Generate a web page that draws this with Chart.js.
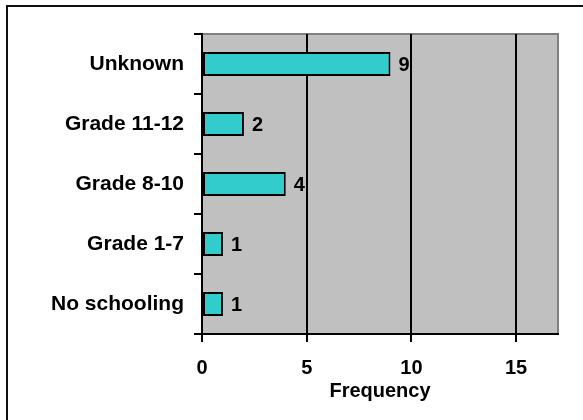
<!DOCTYPE html>
<html>
<head>
<meta charset="utf-8">
<script src="https://cdn.jsdelivr.net/npm/chart.js@4/dist/chart.umd.min.js"></script>
<style>
  html, body { margin: 0; padding: 0; background: #fff; }
  #wrap { width: 583px; height: 420px; }
</style>
</head>
<body>
<div id="wrap"><canvas id="c" width="583" height="420"></canvas></div>
<script>
const categories = ['Unknown', 'Grade 11-12', 'Grade 8-10', 'Grade 1-7', 'No schooling'];
const frequency = [9, 2, 4, 1, 1];
const xTicks = [0, 5, 10, 15];
const xMax = 17;
const xTitle = 'Frequency';

const FONT = '"Liberation Sans", Arial, Helvetica, sans-serif';

const decor = {
  id: 'decor',
  beforeDraw(chart) {
    const { ctx, chartArea: a } = chart;
    ctx.save();
    ctx.fillStyle = '#C0C0C0';
    ctx.fillRect(a.left, a.top, a.right - a.left, a.bottom - a.top);
    ctx.strokeStyle = '#808080';
    ctx.lineWidth = 2;
    ctx.beginPath();
    ctx.moveTo(a.left, a.top);
    ctx.lineTo(a.right, a.top);
    ctx.lineTo(a.right, a.bottom);
    ctx.stroke();
    // outer frame (left and top visible)
    ctx.strokeStyle = '#111';
    ctx.lineWidth = 2;
    ctx.beginPath();
    ctx.moveTo(7, 420);
    ctx.lineTo(7, 6);
    ctx.lineTo(583, 6);
    ctx.stroke();
    ctx.restore();
  },
  afterDatasetsDraw(chart) {
    const { ctx } = chart;
    const meta = chart.getDatasetMeta(0);
    ctx.save();
    ctx.fillStyle = '#000';
    ctx.font = 'bold 20px ' + FONT;
    ctx.textAlign = 'left';
    ctx.textBaseline = 'middle';
    meta.data.forEach((bar, i) => {
      ctx.fillText(String(chart.data.datasets[0].data[i]), bar.x + 8, bar.y + 1);
    });
    ctx.restore();
  }
};

new Chart(document.getElementById('c'), {
  type: 'bar',
  data: {
    labels: categories,
    datasets: [{
      data: frequency,
      backgroundColor: '#33CCCC',
      borderColor: '#000',
      borderWidth: 2,
      borderSkipped: false,
      barPercentage: 0.4,
      categoryPercentage: 1.0
    }]
  },
  options: {
    indexAxis: 'y',
    responsive: false,
    animation: false,
    layout: { padding: { top: 34, right: 25, left: 0, bottom: 0 } },
    plugins: { legend: { display: false }, tooltip: { enabled: false } },
    scales: {
      x: {
        min: 0,
        max: xMax,
        afterBuildTicks(scale) {
          scale.ticks = xTicks.map(v => ({ value: v }));
        },
        afterFit(scale) { scale.height = 86; },
        ticks: {
          color: '#000',
          font: { family: FONT, size: 20, weight: 'bold' },
          padding: 14,
          maxRotation: 0
        },
        grid: { color: '#000', lineWidth: 2, tickLength: 8, drawOnChartArea: true },
        border: { color: '#000', width: 2 },
        title: {
          display: true,
          text: xTitle,
          color: '#000',
          font: { family: FONT, size: 20, weight: 'bold' },
          padding: { top: 0, bottom: 17 }
        }
      },
      y: {
        afterFit(scale) { scale.width = 202; },
        ticks: {
          color: '#000',
          font: { family: FONT, size: 21, weight: 'bold' },
          padding: 10
        },
        grid: { color: '#000', lineWidth: 2, tickLength: 8, drawOnChartArea: false, offset: true },
        border: { color: '#000', width: 2 }
      }
    }
  },
  plugins: [decor]
});
</script>
</body>
</html>
